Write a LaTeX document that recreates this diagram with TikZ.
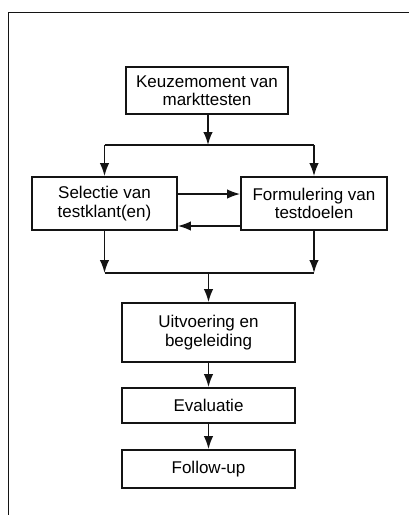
\documentclass[tikz,border=0pt]{standalone}
\usepackage{fontspec}
\setmainfont{Liberation Sans}
\usetikzlibrary{arrows.meta,positioning,calc}
\definecolor{schemaink}{RGB}{20,20,20}

\begin{document}
\begin{tikzpicture}[
    x=1pt, y=-1pt,
    font=\fontsize{17}{18.5}\selectfont,
    box/.style={draw=schemaink, line width=1.8pt, align=center, inner sep=0pt},
    conn/.style={line width=1.6pt, draw=schemaink},
    arr/.style={conn, -{Latex[length=13pt,width=9.5pt]}},
    frame/.style={line width=0.9pt, draw=schemaink}
  ]
    \useasboundingbox (0,0) rectangle (409,515);
    \draw[frame] (8,515) -- (8,12) -- (409,12);

    \node[box, minimum width=162, minimum height=47] (keuze) at (207,90.5) {Keuzemoment van\\markttesten};
    \node[box, minimum width=145, minimum height=53] (selectie) at (104.5,203.5) {Selectie van\\testklant(en)};
    \node[box, minimum width=146, minimum height=53] (formulering) at (314,203.5) {Formulering van\\testdoelen};
    \node[box, minimum width=173, minimum height=59] (uitvoering) at (208.5,332.5) {Uitvoering en\\begeleiding};
    \node[box, minimum width=173, minimum height=35] (evaluatie) at (208.5,405.5) {Evaluatie};
    \node[box, minimum width=173, minimum height=38] (followup) at (208.5,469) {Follow-up};

    \coordinate (split) at (208,145);
    \coordinate (join) at (208.5,273);

    % splitsen naar de twee parallelle stappen
    \draw[arr] (keuze.south -| split) -- (split);
    \draw[conn] (split -| selectie) -- (split -| formulering);
    \foreach \b in {selectie,formulering}
      \draw[arr] (split -| \b) -- (\b.north);

    % wisselwerking
    \draw[arr] ([yshift=9.5pt]selectie.east) -- ([yshift=9.5pt]formulering.west);
    \draw[arr] ([yshift=-22.5pt]formulering.west) -- ([yshift=-22.5pt]selectie.east);

    % samenvoegen
    \foreach \b in {selectie,formulering}
      \draw[arr] (\b.south) -- (join -| \b);
    \draw[conn] (join -| selectie) -- (join -| formulering);
    \draw[arr] (join) -- (uitvoering.north);
    \draw[arr] (uitvoering) -- (evaluatie);
    \draw[arr] (evaluatie) -- (followup);
\end{tikzpicture}
\end{document}
